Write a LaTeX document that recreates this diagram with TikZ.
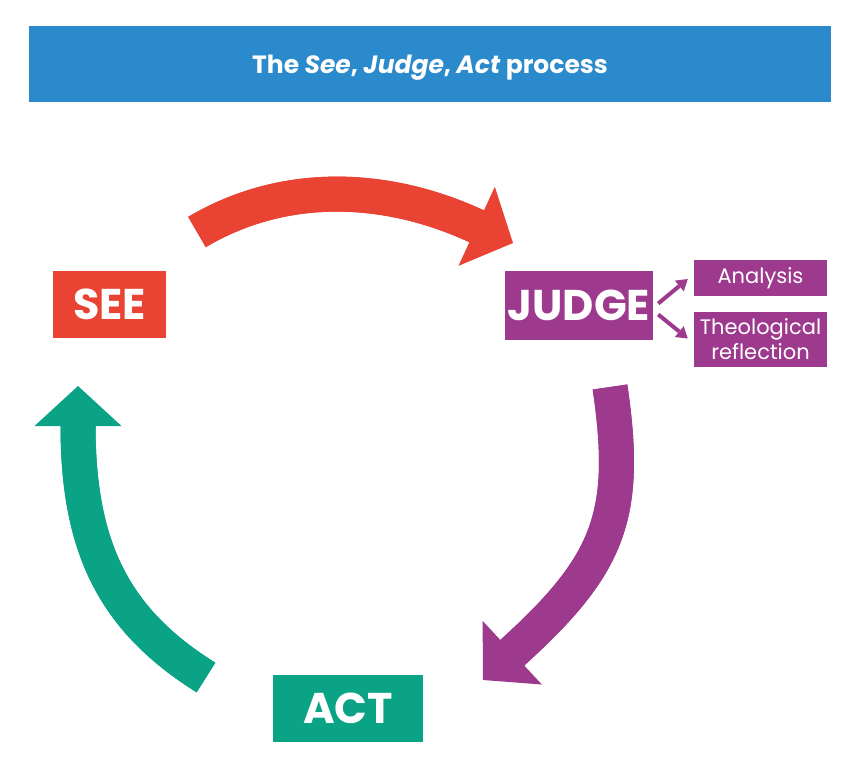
\documentclass[tikz,border=0pt]{standalone}
\usepackage{fontspec}
\setmainfont{Poppins}
\usetikzlibrary{arrows.meta}

\definecolor{seered}{HTML}{E84333}
\definecolor{judgepurple}{HTML}{9E3A8E}
\definecolor{actgreen}{HTML}{0BA386}
\definecolor{titleblue}{HTML}{2A8ACB}

\begin{document}
\begin{tikzpicture}[
  x=1pt,y=-1pt,
  stage/.style={rectangle,inner sep=0pt,text=white,font=\bfseries\fontsize{43}{43}\selectfont},
  subbox/.style={rectangle,fill=judgepurple,inner sep=0pt,text=white,align=center,minimum width=133pt,font=\fontsize{21}{25}\selectfont},
  cyclearrow/.style={line width=35pt,-{Triangle[length=40pt,width=87pt,line width=0pt]},
    postaction={draw,-,shorten >=28pt}},
  branch/.style={judgepurple,line width=4pt,-{Triangle[length=11pt,width=14pt,line width=0pt]}}
]
  \useasboundingbox (0,0) rectangle (856,768);
  % title bar
  \node[fill=titleblue,minimum width=802pt,minimum height=76pt,inner sep=0pt,text height=20pt,text depth=0pt,
    text=white,font=\bfseries\fontsize{25}{25}\selectfont] (title) at (430,64) {The \textit{See}, \textit{Judge}, \textit{Act} process};
  % stages
  \node[stage,fill=seered,minimum width=113pt,minimum height=67pt] (see) at (109.5,304.5) {SEE};
  \node[stage,fill=judgepurple,minimum width=148pt,minimum height=69pt] (judge) at (579,305.5) {JUDGE};
  \node[stage,fill=actgreen,minimum width=150pt,minimum height=67pt] (act) at (348,708.5) {ACT};
  \node[subbox,minimum height=36pt] (analysis) at (760.5,278) {Analysis};
  \node[subbox,minimum height=55pt] (theo) at (760.5,339.5) {Theological\\reflection};
  % cycle arrows
  \coordinate (r0) at (197,232);
  \coordinate (rb) at (476,226);
  \coordinate (r1) at (513,243);
  \coordinate (p0) at (610,387);
  \coordinate (pb) at (512.5,652.5);
  \coordinate (p1) at (483,680);
  \coordinate (g0) at (206,677.5);
  \coordinate (gb) at (78,425);
  \coordinate (g1) at (78,386);
  \draw[cyclearrow,seered] (r0) .. controls (283,181) and (385,184) .. (rb) -- (r1);
  \draw[cyclearrow,judgepurple] (p0) .. controls (629,516) and (609,565) .. (pb) -- (p1);
  \draw[cyclearrow,actgreen] (g0) .. controls (112,619) and (78,545) .. (gb) -- (g1);
  % judge branches
  \draw[branch] ([shift={(5,-2)}]judge.east) -- ([shift={(-6,1)}]analysis.west);
  \draw[branch] ([shift={(5,9)}]judge.east) -- ([shift={(-6,-1)}]theo.west);
\end{tikzpicture}
\end{document}
